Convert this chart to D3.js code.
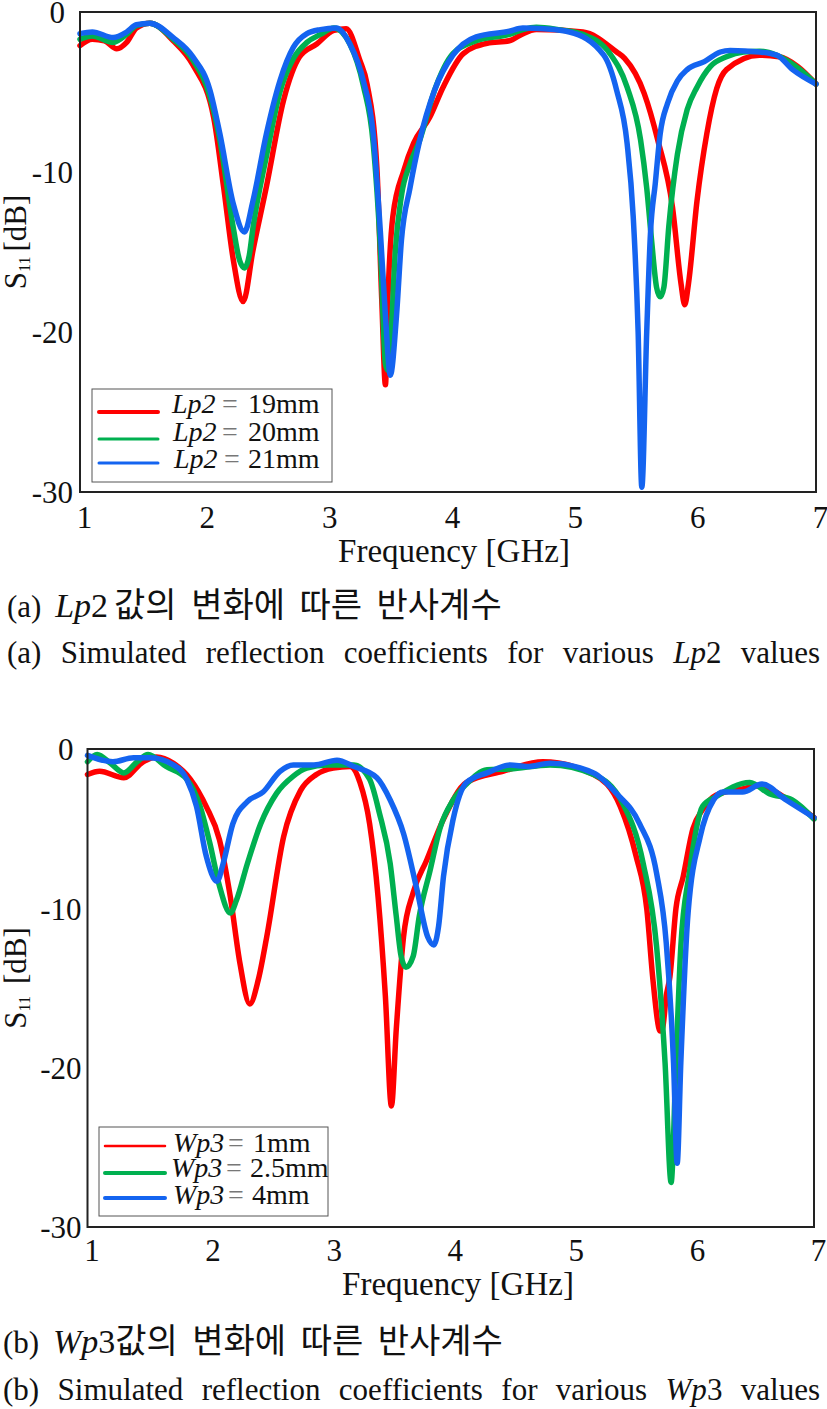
<!DOCTYPE html>
<html>
<head>
<meta charset="utf-8">
<script src="https://cdn.jsdelivr.net/npm/d3@7"></script>
<style>
body { margin: 0; background: #fff; }
text { font-family: "Liberation Serif", "Noto Sans CJK KR", serif; fill: #111; }
</style>
</head>
<body>
<svg id="chart" width="827" height="1409"></svg>
<script>
var xTicks = [1, 2, 3, 4, 5, 6, 7];
var yTicks = [0, -10, -20, -30];
var seriesColors = ['#ff0000', '#00b050', '#1464f0'];

// Panel (a): Lp2 sweep
var lp19Freq = [1, 1.1, 1.2, 1.3, 1.38, 1.46, 1.57, 1.76, 1.92, 2.09, 2.17, 2.25, 2.33, 2.41, 2.52, 2.66, 2.79, 2.93, 3.07, 3.17, 3.28, 3.34, 3.42, 3.46, 3.49, 3.51, 3.55, 3.64, 3.72, 3.85, 3.96, 4.125, 4.32, 4.5, 4.6, 4.72, 5.1, 5.375, 5.44, 5.6, 5.71, 5.83, 5.9, 5.93, 5.96, 6.03, 6.11, 6.19, 6.27, 6.54, 6.7, 6.85, 7];
var lp19S11 = [-2.1, -1.7, -1.8, -2.3, -1.9, -1, -0.7, -1.8, -3.3, -6.6, -10.9, -15.5, -18.1, -14.9, -10.9, -5.5, -2.8, -2, -1.15, -1.05, -3, -4.5, -9.7, -18, -23.3, -18, -12.8, -9.9, -8.2, -6.6, -4.7, -2.6, -1.95, -1.8, -1.4, -1.1, -1.25, -2.5, -2.9, -5.1, -8, -12.2, -17, -18.3, -17, -11.8, -7.6, -4.8, -3.6, -2.7, -2.8, -3.4, -4.5];
var lp20Freq = [1, 1.1, 1.27, 1.38, 1.46, 1.57, 1.76, 1.92, 2.06, 2.14, 2.25, 2.3, 2.34, 2.38, 2.41, 2.52, 2.63, 2.74, 2.85, 2.96, 3.07, 3.2, 3.31, 3.39, 3.45, 3.49, 3.51, 3.53, 3.57, 3.62, 3.69, 3.77, 3.89, 4.04, 4.23, 4.5, 4.61, 4.72, 4.9, 5.1, 5.32, 5.46, 5.57, 5.62, 5.66, 5.7, 5.73, 5.76, 5.8, 5.87, 5.95, 6.03, 6.14, 6.27, 6.41, 6.54, 6.68, 6.87, 7];
var lp20S11 = [-1.7, -1.5, -1.9, -1.4, -0.85, -0.7, -1.7, -3, -5.3, -8, -13.5, -15.5, -16, -15.2, -13.5, -9, -5, -2.9, -1.9, -1.4, -1, -2, -4.6, -8.2, -15, -22, -22.4, -21, -15, -11.5, -9.5, -8, -4.9, -2.6, -1.8, -1.4, -1.1, -0.95, -1.1, -1.4, -2.6, -4.7, -8, -11, -14.3, -17.2, -17.8, -17.2, -13.4, -8.9, -6.1, -4.7, -3.4, -2.8, -2.5, -2.45, -2.7, -3.6, -4.5];
var lp21Freq = [1, 1.1, 1.27, 1.38, 1.46, 1.57, 1.76, 1.92, 2.06, 2.14, 2.25, 2.34, 2.41, 2.52, 2.63, 2.74, 2.85, 2.96, 3.09, 3.2, 3.31, 3.39, 3.45, 3.49, 3.53, 3.58, 3.62, 3.69, 3.77, 3.89, 4.04, 4.23, 4.5, 4.61, 4.78, 4.99, 5.27, 5.375, 5.46, 5.51, 5.55, 5.58, 5.62, 5.65, 5.69, 5.73, 5.79, 5.87, 5.95, 6.09, 6.22, 6.3, 6.54, 6.68, 6.81, 7];
var lp21S11 = [-1.35, -1.25, -1.6, -1.25, -0.8, -0.7, -1.6, -2.8, -4.9, -7.6, -12, -13.75, -11.8, -7.6, -4.3, -2.2, -1.35, -1.1, -1, -2, -4.3, -7.6, -13.9, -19, -22.7, -19, -14.3, -11, -8, -4.9, -2.7, -1.55, -1.2, -1, -1.05, -1.25, -2.7, -4.9, -8.2, -12.8, -20, -29.7, -20, -13.9, -10.7, -7.6, -5.7, -4.3, -3.6, -3.1, -2.5, -2.4, -2.5, -2.7, -3.6, -4.5];

// Panel (b): Wp3 sweep
var wp1Freq = [1, 1.1, 1.3, 1.46, 1.57, 1.71, 1.85, 1.98, 2.09, 2.18, 2.26, 2.34, 2.41, 2.48, 2.62, 2.76, 2.89, 3.03, 3.17, 3.25, 3.33, 3.4, 3.46, 3.51, 3.55, 3.61, 3.69, 3.8, 3.94, 4.13, 4.43, 4.76, 5.18, 5.4, 5.53, 5.62, 5.67, 5.73, 5.75, 5.78, 5.81, 5.86, 5.92, 6, 6.08, 6.19, 6.41, 6.55, 6.77, 7];
var wp1S11 = [-1.6, -1.4, -1.8, -0.8, -0.5, -0.9, -1.9, -3.6, -5.7, -9.3, -13.5, -16, -14.5, -11.8, -5.5, -2.6, -1.6, -1.2, -1.1, -2.1, -4.7, -9.3, -15.5, -22.4, -17.6, -11.8, -9, -7, -4.4, -2.1, -1.4, -0.8, -1.6, -3.6, -6.7, -10.1, -14.5, -17.7, -17.5, -15.5, -14.3, -10, -8, -5, -3.8, -2.9, -2.5, -2.3, -3.1, -4.3];
var wp25Freq = [1, 1.08, 1.19, 1.3, 1.41, 1.5, 1.65, 1.82, 1.93, 2.01, 2.09, 2.18, 2.23, 2.32, 2.43, 2.56, 2.7, 2.81, 2.98, 3.2, 3.33, 3.41, 3.5, 3.55, 3.59, 3.63, 3.69, 3.74, 3.83, 3.91, 4.02, 4.13, 4.3, 4.49, 4.82, 5.18, 5.42, 5.59, 5.7, 5.77, 5.82, 5.86, 5.9, 5.97, 6.08, 6.19, 6.47, 6.63, 6.82, 7];
var wp25S11 = [-0.8, -0.35, -0.9, -1.5, -0.8, -0.35, -1.1, -1.9, -3.6, -5.9, -8.6, -10.3, -9.5, -7.2, -4.7, -2.8, -1.7, -1.2, -1, -1, -1.9, -4, -7.2, -10.5, -13, -13.7, -13, -10.5, -7.6, -5, -3.2, -2.2, -1.3, -1.25, -1, -1.6, -3.4, -7.2, -12.4, -19.7, -27.2, -19.7, -12.4, -7.8, -3.6, -3, -2.1, -2.8, -3.2, -4.4];
var wp4Freq = [1, 1.21, 1.38, 1.52, 1.71, 1.82, 1.9, 1.98, 2.07, 2.12, 2.2, 2.32, 2.45, 2.59, 2.7, 2.87, 3.06, 3.2, 3.39, 3.5, 3.61, 3.72, 3.81, 3.86, 3.9, 3.94, 4.02, 4.13, 4.3, 4.49, 4.63, 4.82, 5.18, 5.37, 5.56, 5.7, 5.78, 5.84, 5.87, 5.9, 5.96, 6.06, 6.17, 6.25, 6.41, 6.57, 6.77, 7];
var wp4S11 = [-0.4, -0.8, -0.55, -0.55, -1, -1.9, -3.6, -6.7, -8.3, -7.2, -4.7, -3.3, -2.7, -1.4, -1, -1, -0.7, -1.1, -1.8, -3.2, -5.3, -8.8, -11.8, -12.3, -11.1, -8, -4.4, -2.1, -1.5, -1, -1.1, -0.9, -1.5, -2.8, -4.7, -7.8, -12.2, -19.7, -26, -19.7, -10.3, -5.5, -3.2, -2.7, -2.7, -2.2, -3.2, -4.3];

var svg = d3.select('#chart');

function drawPanel(p) {
    var xScale = d3.scaleLinear().domain([1, 7]).range([p.left, p.right]);
    var yScale = d3.scaleLinear().domain([0, -30]).range([p.top, p.bottom]);

    var line = d3.line()
        .x(d => xScale(d[0]))
        .y(d => yScale(d[1]))
        .curve(d3.curveMonotoneX);

    p.series.forEach(function (s, i) {
        svg.append('path')
            .datum(d3.zip(s.freq, s.s11))
            .attr('fill', 'none')
            .attr('stroke', seriesColors[i])
            .attr('stroke-width', 5.5)
            .attr('stroke-linecap', 'round')
            .attr('stroke-linejoin', 'round')
            .attr('d', line);
    });

    // Frame goes on top of the curves
    svg.append('rect')
        .attr('x', p.left).attr('y', p.top)
        .attr('width', p.right - p.left).attr('height', p.bottom - p.top)
        .attr('fill', 'none').attr('stroke', '#222').attr('stroke-width', 2);

    var xAxis = svg.append('g')
        .attr('transform', `translate(${p.xLabelShift}, ${p.xTickY})`)
        .call(d3.axisBottom(xScale).tickValues(xTicks).tickFormat(String).tickSize(0).tickPadding(0));
    xAxis.select('.domain').remove();
    xAxis.selectAll('text').attr('font-size', 31).style('font-family', '"Liberation Serif"').attr('dy', '0.8em').attr('fill', '#111');

    // Plain hyphen on the labels, as printed. The 0 sits further left than the others
    var yAxis = svg.append('g')
        .attr('transform', `translate(${p.left - p.yLabelGap}, 1)`)
        .call(d3.axisLeft(yScale).tickValues(yTicks).tickFormat(String).tickSize(0).tickPadding(0));
    yAxis.select('.domain').remove();
    yAxis.selectAll('text')
        .attr('x', d => d === 0 ? -8 : 0)
        .attr('font-size', 31).style('font-family', '"Liberation Serif"').attr('fill', '#111');

    // Axis titles
    svg.append('text')
        .attr('x', p.xTitleX).attr('y', p.xTitleY)
        .attr('font-size', 33).attr('text-anchor', 'middle')
        .text('Frequency [GHz]');

    var yTitle = svg.append('text')
        .attr('transform', `translate(${p.yTitleX}, ${p.yTitleY}) rotate(-90)`)
        .attr('font-size', 31).attr('text-anchor', 'middle');
    yTitle.append('tspan').text('S');
    yTitle.append('tspan').attr('font-size', 16).attr('dy', 4).text('11');
    yTitle.append('tspan').attr('dy', -4).attr('dx', p.yTitleGap).text('[dB]');

    // Legend
    svg.append('rect')
        .attr('x', p.legend.x).attr('y', p.legend.y)
        .attr('width', p.legend.w).attr('height', p.legend.h)
        .attr('fill', '#fff').attr('stroke', '#555').attr('stroke-width', 1);

    p.series.forEach(function (s, i) {
        svg.append('line')
            .attr('x1', p.legend.lineX[0]).attr('x2', p.legend.lineX[1])
            .attr('y1', p.legend.lineY[i]).attr('y2', p.legend.lineY[i])
            .attr('stroke', seriesColors[i])
            .attr('stroke-width', p.legend.lineW[i])
            .attr('stroke-linecap', 'round');
        var t = svg.append('text')
            .attr('y', p.legend.textY[i])
            .attr('font-size', 28);
        t.append('tspan').attr('x', p.legend.textX[i]).attr('font-style', 'italic').text(p.paramName);
        t.append('tspan').attr('x', p.legend.eqX[i]).attr('fill', '#777').text('=');
        t.append('tspan').attr('x', p.legend.valX[i]).text(s.label);
    });

    // Captions under the panel
    var c1 = svg.append('text').attr('x', p.capX).attr('y', p.capY[0])
        .attr('font-size', 31).attr('word-spacing', 6);
    c1.append('tspan').text(p.tag + ' ');
    c1.append('tspan').attr('font-size', 34).attr('font-style', 'italic').text(p.capParam);
    c1.append('tspan').attr('font-size', 34).text(p.capNum);
    c1.append('tspan').attr('font-size', 34).attr('dx', p.capKoreanGap).text('값의 변화에 따른 반사계수');

    var c2 = svg.append('text').attr('x', p.capX).attr('y', p.capY[1])
        .attr('font-size', 31);
    c2.append('tspan').text(p.tag + ' Simulated reflection coefficients for various ');
    c2.append('tspan').attr('font-style', 'italic').text(p.capParam);
    c2.append('tspan').text(p.capNum + ' values');

    // Stretch the word gaps so the line fills the column as in the print layout
    var spaces = c2.text().split(' ').length - 1;
    c2.attr('word-spacing', (p.capWidth - c2.node().getComputedTextLength()) / spaces);
}

drawPanel({
    left: 80, right: 816, top: 12, bottom: 492,
    xTickY: 503, xLabelShift: 4, yLabelGap: 7,
    xTitleX: 454, xTitleY: 562, yTitleX: 26, yTitleY: 242, yTitleGap: 5,
    paramName: 'Lp2',
    series: [
        { freq: lp19Freq, s11: lp19S11, label: '19mm' },
        { freq: lp20Freq, s11: lp20S11, label: '20mm' },
        { freq: lp21Freq, s11: lp21S11, label: '21mm' }
    ],
    legend: {
        x: 92, y: 389, w: 240, h: 93,
        lineX: [99, 158], lineY: [412, 439, 463], lineW: [4, 3, 3],
        textX: [172, 173, 174], eqX: [222, 222, 224], valX: [248, 248, 248], textY: [413, 441, 468]
    },
    tag: '(a)', capParam: 'Lp', capNum: '2', capKoreanGap: 6, capX: 7, capY: [617, 663], capWidth: 813
});

drawPanel({
    left: 87.5, right: 814, top: 749, bottom: 1227,
    xTickY: 1236, xLabelShift: 4, yLabelGap: 6,
    xTitleX: 458, xTitleY: 1295, yTitleX: 26, yTitleY: 978, yTitleGap: 12,
    paramName: 'Wp3',
    series: [
        { freq: wp1Freq, s11: wp1S11, label: '1mm' },
        { freq: wp25Freq, s11: wp25S11, label: '2.5mm' },
        { freq: wp4Freq, s11: wp4S11, label: '4mm' }
    ],
    legend: {
        x: 99, y: 1127, w: 229, h: 89,
        lineX: [105, 165], lineY: [1146, 1173, 1198], lineW: [2.5, 4, 4],
        textX: [173, 171, 173], eqX: [228, 226, 228], valX: [253, 250, 252], textY: [1152, 1177, 1204]
    },
    tag: '(b)', capParam: 'Wp', capNum: '3', capKoreanGap: 0, capX: 3, capY: [1353, 1400], capWidth: 817
});
</script>
</body>
</html>
